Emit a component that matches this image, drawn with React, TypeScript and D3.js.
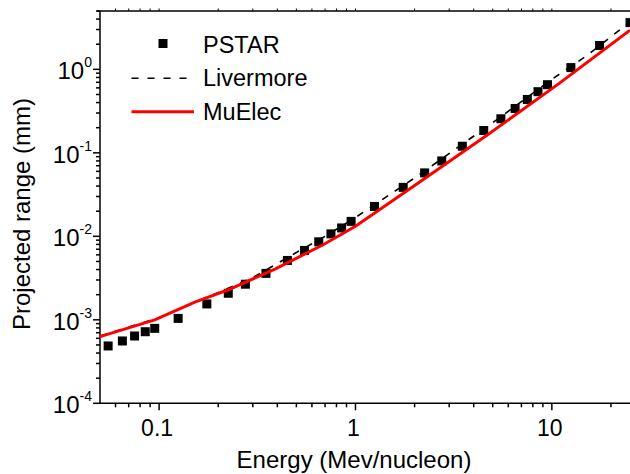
import { useEffect, useRef } from 'react'
import * as d3 from 'd3'

// PSTAR reference points (MeV/nucleon, mm)
const pstarEnergy = [
  0.055, 0.065, 0.075, 0.085, 0.095, 0.125, 0.175, 0.225, 0.275, 0.35, 0.45, 0.55, 0.65, 0.75, 0.85,
  0.95, 1.25, 1.75, 2.25, 2.75, 3.5, 4.5, 5.5, 6.5, 7.5, 8.5, 9.5, 12.5, 17.5, 25,
]
const pstarRange = [
  4.86e-4, 5.58e-4, 6.4e-4, 7.2e-4, 7.9e-4, 1.04e-3, 1.55e-3, 2.08e-3, 2.67e-3, 3.6e-3, 5.14e-3,
  6.78e-3, 8.6e-3, 1.07e-2, 1.26e-2, 1.51e-2, 2.28e-2, 3.86e-2, 5.75e-2, 8.0e-2, 0.12, 0.185, 0.256,
  0.34, 0.436, 0.54, 0.655, 1.05, 1.93, 3.63,
]

const livermoreEnergy = [0.05, 0.1, 0.2, 0.3, 0.5, 0.7, 1, 2, 5, 10, 15, 25]
const livermoreRange = [6.4e-4, 1.06e-3, 2.12e-3, 3.2e-3, 6.4e-3, 1.0e-2, 1.68e-2, 5.0e-2, 0.23, 0.76, 1.45, 3.7]

const muelecEnergy = [0.05, 0.095, 0.152, 0.225, 0.389, 0.684, 1.0, 2.07, 4.65, 10.9, 25]
const muelecRange = [6.3e-4, 1.0e-3, 1.63e-3, 2.29e-3, 4.05e-3, 7.93e-3, 1.32e-2, 4.28e-2, 0.161, 0.679, 2.95]

const xMajor = [0.1, 1, 10]
const yMajor = [1e-4, 1e-3, 1e-2, 1e-1, 1]
const yExponents = ['-4', '-3', '-2', '-1', '0']

const legendItems = ['PSTAR', 'Livermore', 'MuElec']

function App() {
  const ref = useRef(null)

  useEffect(() => {
    const width = 630,
      height = 474
    const left = 100,
      right = 630,
      top = 11,
      bottom = 403.3
    const font = 'Arial, "Liberation Sans", sans-serif'

    const x = d3.scaleLog().domain([0.05, 25]).range([left, right])
    const y = d3.scaleLog().domain([1e-4, 5]).range([bottom, top])

    const svg = d3.select(ref.current)
    svg.selectAll('*').remove()
    svg.attr('width', width).attr('height', height)

    svg
      .append('rect')
      .attr('width', width)
      .attr('height', height)
      .attr('fill', '#fff')

    // minor tick values
    const xMinor = []
    ;[0.01, 0.1, 1, 10].forEach((d) => {
      for (let k = 2; k <= 9; k++) {
        const v = d * k
        if (v > 0.05 && v <= 25) xMinor.push(v)
      }
    })
    const yMinor = []
    ;[1e-4, 1e-3, 1e-2, 1e-1, 1].forEach((d) => {
      for (let k = 2; k <= 9; k++) {
        const v = d * k
        if (v <= 5) yMinor.push(v)
      }
    })

    const axis = svg.append('g').attr('stroke', '#000').attr('stroke-width', 1.5)

    // bottom + left axis lines, top frame
    axis.append('line').attr('x1', left).attr('x2', right).attr('y1', bottom).attr('y2', bottom)
    axis.append('line').attr('x1', left).attr('x2', left).attr('y1', top).attr('y2', bottom)
    axis.append('line').attr('x1', left - 3).attr('x2', right).attr('y1', top).attr('y2', top)

    axis
      .selectAll('.xmaj')
      .data(xMajor)
      .enter()
      .append('line')
      .attr('x1', (d) => x(d))
      .attr('x2', (d) => x(d))
      .attr('y1', bottom)
      .attr('y2', bottom + 7)
    axis
      .selectAll('.xmin')
      .data(xMinor)
      .enter()
      .append('line')
      .attr('x1', (d) => x(d))
      .attr('x2', (d) => x(d))
      .attr('y1', bottom)
      .attr('y2', bottom + 4)
    // top ticks
    axis
      .selectAll('.xtop')
      .data(xMajor.concat(xMinor))
      .enter()
      .append('line')
      .attr('stroke-width', 1)
      .attr('x1', (d) => x(d))
      .attr('x2', (d) => x(d))
      .attr('y1', top)
      .attr('y2', top - 2.5)

    axis
      .selectAll('.ymaj')
      .data(yMajor)
      .enter()
      .append('line')
      .attr('x1', left - 7)
      .attr('x2', left)
      .attr('y1', (d) => y(d))
      .attr('y2', (d) => y(d))
    axis
      .selectAll('.ymin')
      .data(yMinor)
      .enter()
      .append('line')
      .attr('x1', left - 4)
      .attr('x2', left)
      .attr('y1', (d) => y(d))
      .attr('y2', (d) => y(d))

    // tick labels
    svg
      .selectAll('.xlab')
      .data(xMajor)
      .enter()
      .append('text')
      .attr('x', (d) => x(d) - 2)
      .attr('y', 436)
      .attr('text-anchor', 'middle')
      .attr('font-family', font)
      .attr('font-size', 23)
      .text((d) => String(d))

    const ylab = svg
      .selectAll('.ylab')
      .data(yMajor)
      .enter()
      .append('text')
      .attr('x', 92)
      .attr('y', (d) => y(d) + 10)
      .attr('text-anchor', 'end')
      .attr('font-family', font)
      .attr('font-size', 24)
    ylab.append('tspan').text('10')
    ylab
      .append('tspan')
      .attr('dy', -12)
      .attr('font-size', 14)
      .text((d, i) => yExponents[i])

    // axis titles
    svg
      .append('text')
      .attr('x', 354)
      .attr('y', 468)
      .attr('text-anchor', 'middle')
      .attr('font-family', font)
      .attr('font-size', 24)
      .text('Energy (Mev/nucleon)')
    svg
      .append('text')
      .attr('transform', 'translate(29.5,214) rotate(-90)')
      .attr('text-anchor', 'middle')
      .attr('font-family', font)
      .attr('font-size', 24)
      .text('Projected range (mm)')

    const line = d3
      .line()
      .x((d) => x(d[0]))
      .y((d) => y(d[1]))

    const plot = svg.append('g')

    plot
      .append('path')
      .attr('d', line(livermoreEnergy.map((e, i) => [e, livermoreRange[i]])))
      .attr('fill', 'none')
      .attr('stroke', '#000')
      .attr('stroke-width', 1.6)
      .attr('stroke-dasharray', '7,8')

    plot
      .selectAll('.pt')
      .data(pstarEnergy.map((e, i) => [e, pstarRange[i]]))
      .enter()
      .append('rect')
      .attr('x', (d) => x(d[0]) - 4.5)
      .attr('y', (d) => y(d[1]) - 4.5)
      .attr('width', 9)
      .attr('height', 9)
      .attr('fill', '#000')

    plot
      .append('path')
      .attr('d', line(muelecEnergy.map((e, i) => [e, muelecRange[i]])))
      .attr('fill', 'none')
      .attr('stroke', '#ff0000')
      .attr('stroke-width', 3)

    // legend
    const lg = svg.append('g')
    lg.append('rect').attr('x', 158.5).attr('y', 39).attr('width', 9).attr('height', 9).attr('fill', '#000')
    lg.append('line')
      .attr('x1', 131.5)
      .attr('x2', 194)
      .attr('y1', 78.3)
      .attr('y2', 78.3)
      .attr('stroke', '#000')
      .attr('stroke-width', 1.6)
      .attr('stroke-dasharray', '7,9')
    lg.append('line')
      .attr('x1', 131.5)
      .attr('x2', 194)
      .attr('y1', 111.7)
      .attr('y2', 111.7)
      .attr('stroke', '#ff0000')
      .attr('stroke-width', 3)
    lg.selectAll('text')
      .data(legendItems)
      .enter()
      .append('text')
      .attr('x', 203)
      .attr('y', (d, i) => 52.5 + i * 33.5)
      .attr('font-family', font)
      .attr('font-size', 23.5)
      .text((d) => d)
  }, [])

  return <svg ref={ref} style={{ position: 'absolute', left: 0, top: 0 }} />
}

export default App
